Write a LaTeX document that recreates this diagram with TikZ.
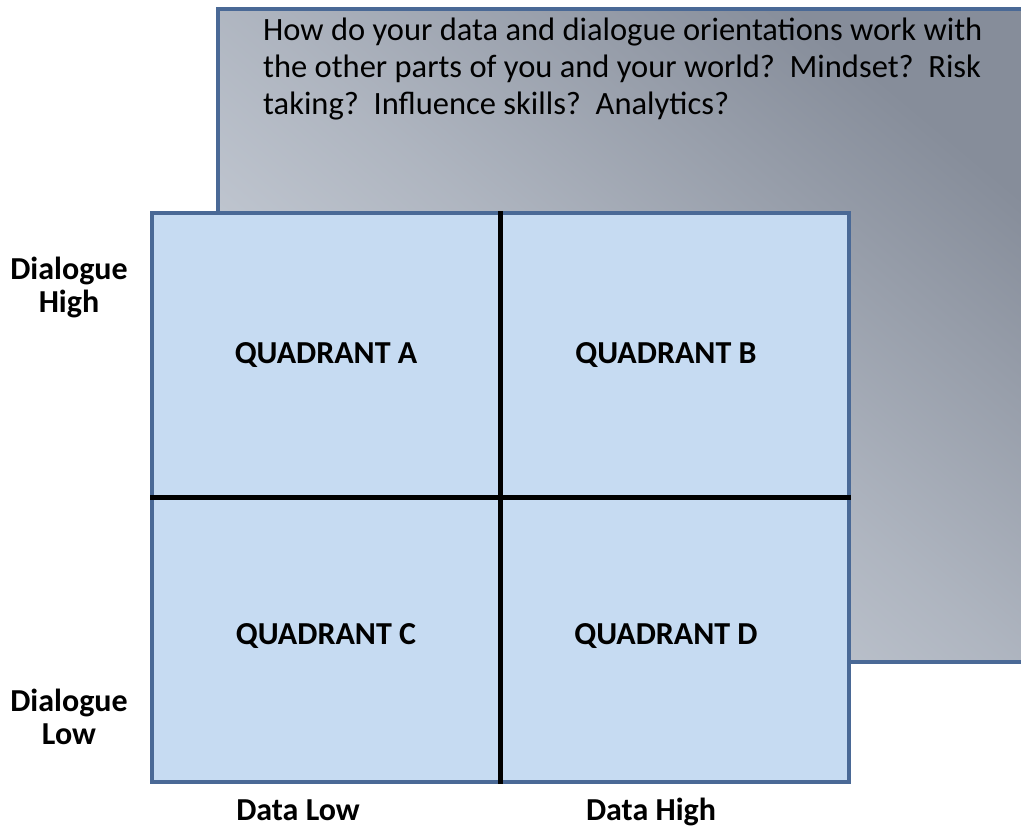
\documentclass[tikz,border=0pt]{standalone}
\usepackage{fontspec}
\setmainfont{Carlito}
\usetikzlibrary{positioning}
\definecolor{frameblue}{HTML}{4A6996}
\definecolor{quadfill}{HTML}{C6DBF2}
\definecolor{greydark}{HTML}{868D9A}
\definecolor{greylight}{HTML}{D0D6DF}

\begin{document}
\begin{tikzpicture}[x=1pt, y=-1pt, question/.style={align=left, anchor=north west, inner sep=0pt, font=\fontsize{32.5}{37}\selectfont}, axislabel/.style={align=center, inner sep=0pt, font=\fontsize{32}{33}\selectfont\bfseries}, quadlabel/.style={inner sep=0pt, font=\fontsize{32}{33}\selectfont\bfseries}, divider/.style={line width=4.5pt, black}]
	\useasboundingbox (0,0) rectangle (1021,827);
	\clip (0,0) rectangle (1021,827);
	% back panel with the question
	\shade[top color=greydark, bottom color=greylight, middle color=greydark!45!greylight, shading angle=-40, draw=frameblue, line width=3.5pt] (218,9) rectangle (1030,662);
	\draw (263,18)node[question](ask){How do your data and dialogue orientations work with\\the other parts of you and your world?\ \ Mindset?\ \ Risk\\taking?\ \ Influence skills?\ \ Analytics?};
	% the four quadrants
	\draw (500.5,497.5)node[draw=frameblue, fill=quadfill, line width=3.5pt, minimum width=697pt, minimum height=569pt, inner sep=0pt](grid){};
	\draw[divider] (grid.north) -- (grid.south);
	\draw[divider] (grid.west) -- (grid.east);
	\draw (326,355)node[quadlabel](qa){QUADRANT A};
	\draw (666,355)node[quadlabel](qb){QUADRANT B};
	\draw (326,636)node[quadlabel](qc){QUADRANT C};
	\draw (666,636)node[quadlabel](qd){QUADRANT D};
	% axis labels
	\draw (69,287)node[axislabel](dhigh){Dialogue\\High};
	\draw (69,717)node[axislabel](dlow){Dialogue\\Low};
	\draw (298,820)node[axislabel, anchor=base](dtlow){Data Low};
	\draw (651,820)node[axislabel, anchor=base](dthigh){Data High};
\end{tikzpicture}
\end{document}
